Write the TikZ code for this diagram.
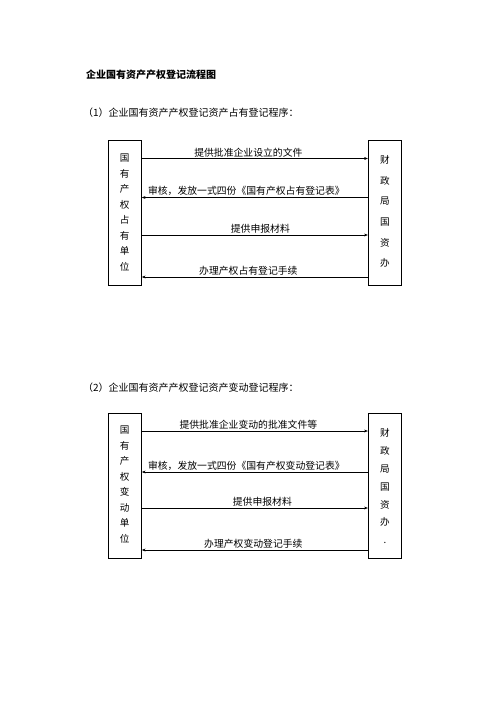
\documentclass[tikz,border=0pt]{standalone}
\usepackage{fontspec}
\setmainfont{Noto Sans CJK SC}
\usepackage{tikz}
\usetikzlibrary{arrows.meta,positioning}
\tikzset{
  unitbox/.style={draw, line width=0.9pt, minimum width=33.5*1.2pt, minimum height=145*1.2pt, inner sep=0pt},
  lefttext/.style={align=center, inner sep=0pt, anchor=north, font=\fontsize{11.5}{18.6}\selectfont},
  righttext/.style={align=center, inner sep=0pt, anchor=north, font=\fontsize{11.5}{24.8}\selectfont},
  flow/.style={line width=0.6pt, -{Stealth[length=4.5pt,width=3.5pt]}},
  flowlabel/.style={above, inner sep=1.5pt, font=\fontsize{11.8}{12}\selectfont}
}
\begin{document}
\begin{tikzpicture}[x=1.2pt, y=-1.2pt]
    \useasboundingbox (0,0) rectangle (496,702);

    % Title
    \node[anchor=west, inner sep=0pt, font=\fontsize{12}{12}\selectfont\bfseries] (title) at (86,75) {企业国有资产产权登记流程图};

    % Part 1: occupancy registration
    \node[anchor=west, inner sep=0pt, font=\fontsize{12}{12}\selectfont] (head1) at (83,113) {（1）企业国有资产产权登记资产占有登记程序：};

    \node[unitbox] (own1) at (124.7,212.5) {};
    \node[unitbox] (fin1) at (385,212.5) {};
    \node[lefttext] (own1txt) at ([yshift=-14.5*1.2pt]own1.north) {国\\有\\产\\权\\占\\有\\单\\位};
    \node[righttext] (fin1txt) at ([yshift=-15.5*1.2pt]fin1.north) {财\\政\\局\\国\\资\\办};

    \draw[flow] (own1.east |- 0,158.5) -- (fin1.west |- 0,158.5)
        node[flowlabel, midway, xshift=-6.5*1.2pt] (lab1a) {提供批准企业设立的文件};
    \draw[flow] (fin1.west |- 0,197.5) -- (own1.east |- 0,197.5)
        node[flowlabel, midway, xshift=-8.5*1.2pt] (lab1b) {审核，发放一式四份《国有产权占有登记表》};
    \draw[flow] (own1.east |- 0,235) -- (fin1.west |- 0,235)
        node[flowlabel, midway, xshift=5.5*1.2pt] (lab1c) {提供申报材料};
    \draw[flow] (fin1.west |- 0,277) -- (own1.east |- 0,277)
        node[flowlabel, midway, xshift=-6.5*1.2pt] (lab1d) {办理产权占有登记手续};

    % Part 2: change registration
    \node[anchor=west, inner sep=0pt, font=\fontsize{12}{12}\selectfont] (head2) at (83,388) {（2）企业国有资产产权登记资产变动登记程序：};

    \node[unitbox] (own2) at (124.7,485.5) {};
    \node[unitbox] (fin2) at (385,485.5) {};
    \node[lefttext] (own2txt) at ([yshift=-13.5*1.2pt]own2.north) {国\\有\\产\\权\\变\\动\\单\\位};
    \node[righttext, font=\fontsize{11.5}{21.5}\selectfont] (fin2txt) at ([yshift=-15.5*1.2pt]fin2.north) {财\\政\\局\\国\\资\\办\\.};

    \draw[flow] (own2.east |- 0,431) -- (fin2.west |- 0,431)
        node[flowlabel, midway, xshift=-6.5*1.2pt] (lab2a) {提供批准企业变动的批准文件等};
    \draw[flow] (fin2.west |- 0,472) -- (own2.east |- 0,472)
        node[flowlabel, midway, xshift=-8.5*1.2pt] (lab2b) {审核，发放一式四份《国有产权变动登记表》};
    \draw[flow] (own2.east |- 0,508) -- (fin2.west |- 0,508)
        node[flowlabel, midway, xshift=7.5*1.2pt] (lab2c) {提供申报材料};
    \draw[flow] (fin2.west |- 0,550) -- (own2.east |- 0,550)
        node[flowlabel, midway, xshift=-1.5*1.2pt] (lab2d) {办理产权变动登记手续};
\end{tikzpicture}
\end{document}
